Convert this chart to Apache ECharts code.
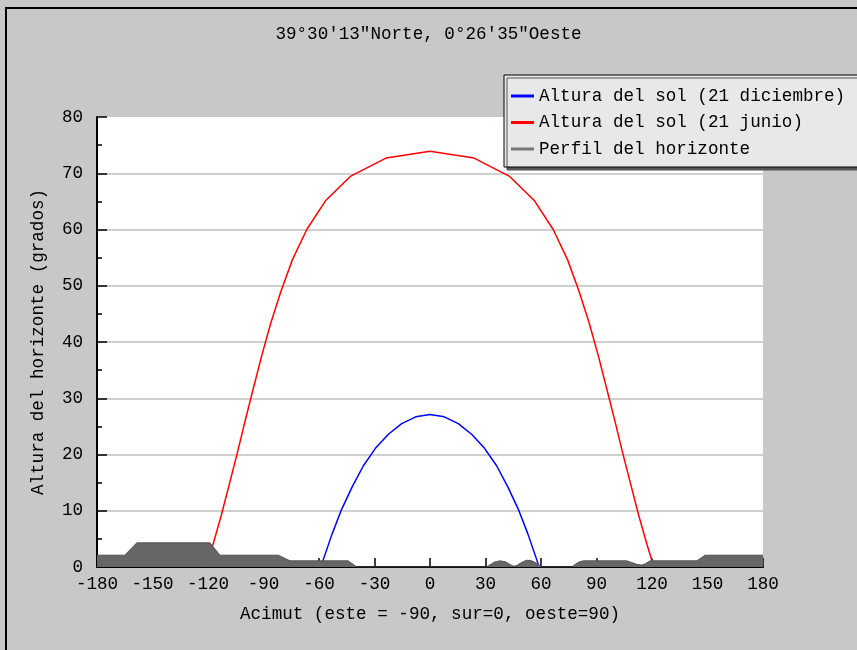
<!DOCTYPE html>
<html><head><meta charset="utf-8">
<script src="https://cdn.jsdelivr.net/npm/echarts@6/dist/echarts.min.js"></script>
<style>html,body{margin:0;padding:0;background:#c8c8c8;overflow:hidden}#c{width:857px;height:650px}</style>
</head><body><div id="c"></div>
<script>
// ---- data ----
const titleText = '39°30′13"Norte, 0°26′35"Oeste';
const xAxisName = 'Acimut (este = -90, sur=0, oeste=90)';
const yAxisName = 'Altura del horizonte (grados)';
const seriesNames = ['Altura del sol (21 diciembre)', 'Altura del sol (21 junio)', 'Perfil del horizonte'];

// 21 December sun path: azimuth (deg) and altitude (deg)
const decAz  = [-59.0, -58.0, -53.0, -47.7, -42.0, -36.0, -29.5, -22.5, -15.3, -7.7, 0, 7.7, 15.3, 22.5, 29.5, 36.0, 42.0, 47.7, 53.0, 58.0, 59.0];
const decAlt = [0, 1.0, 5.8, 10.3, 14.3, 18.0, 21.1, 23.6, 25.5, 26.7, 27.1, 26.7, 25.5, 23.6, 21.1, 18.0, 14.3, 10.3, 5.8, 1.0, 0];

// 21 June sun path
const junAz  = [-121.0, -117.3, -112.8, -108.5, -104.2, -100.0, -95.6, -91.1, -86.2, -80.7, -74.4, -66.6, -56.5, -42.8, -23.8, 0, 23.8, 42.8, 56.5, 66.6, 74.4, 80.7, 86.2, 91.1, 95.6, 100.0, 104.2, 108.5, 112.8, 117.3, 121.0];
const junAlt = [0, 4.0, 9.2, 14.7, 20.2, 25.9, 31.6, 37.4, 43.2, 48.9, 54.6, 60.0, 65.1, 69.5, 72.7, 73.9, 72.7, 69.5, 65.1, 60.0, 54.6, 48.9, 43.2, 37.4, 31.6, 25.9, 20.2, 14.7, 9.2, 4.0, 0];

// Horizon profile
const horAz  = [-180, -165, -158.5, -119, -113.5, -82, -75.7, -44.3, -39.6, 30.5, 33, 35, 38, 41, 43, 45, 46.5, 49, 52, 55, 58, 60.5, 76.6, 79, 81, 83, 106.3, 109, 112, 114.4, 116.5, 119, 144.2, 146.5, 148.6, 180];
const horAlt = [2.1, 2.1, 4.3, 4.3, 2.1, 2.1, 1.1, 1.1, 0, 0, 0.5, 0.9, 1.1, 0.9, 0.5, 0.15, 0.2, 0.7, 1.2, 1.1, 0.6, 0, 0, 0.6, 0.95, 1.1, 1.1, 0.8, 0.45, 0.35, 0.6, 1.1, 1.1, 1.6, 2.1, 2.1];

const xMin = -180, xMax = 180, xStep = 30;
const yMin = 0, yMax = 80, yStep = 10;

// ---- chart ----
const zip = (a, b) => a.map((v, i) => [v, b[i]]);
const FONT = '"Liberation Mono", "DejaVu Sans Mono", monospace';
const FS = 17.6;

const chart = echarts.init(document.getElementById('c'), null, {renderer: 'canvas'});
chart.setOption({
  animation: false,
  backgroundColor: '#c8c8c8',
  textStyle: {fontFamily: FONT, fontSize: FS, color: '#000'},
  title: {
    text: titleText, left: 'center', top: 20,
    textStyle: {fontFamily: FONT, fontSize: FS, fontWeight: 'normal', color: '#000'}
  },
  graphic: [
    {type: 'line', silent: true, shape: {x1: 5, y1: 8, x2: 857, y2: 8}, style: {stroke: '#000', lineWidth: 2}},
    {type: 'line', silent: true, shape: {x1: 6, y1: 7, x2: 6, y2: 650}, style: {stroke: '#000', lineWidth: 2}}
  ],
  legend: {
    orient: 'vertical', left: 504, top: 75,
    padding: [11, 14, 8, 7],
    itemGap: 6.5, itemWidth: 23, itemHeight: 3,
    backgroundColor: '#e8e8e8', borderColor: '#000', borderWidth: 1,
    shadowColor: '#555', shadowOffsetX: 3, shadowOffsetY: 3, shadowBlur: 0,
    textStyle: {fontFamily: FONT, fontSize: FS, color: '#000', lineHeight: 20, padding: [0, 0, 0, 0]},
    data: [
      {name: seriesNames[0], icon: 'rect', itemStyle: {color: '#0000ff'}},
      {name: seriesNames[1], icon: 'rect', itemStyle: {color: '#ff0000'}},
      {name: seriesNames[2], icon: 'rect', itemStyle: {color: '#777777'}}
    ],
    z: 20
  },
  grid: {
    left: 97, top: 117, width: 666, height: 450,
    show: true, backgroundColor: '#ffffff', borderWidth: 0, containLabel: false
  },
  xAxis: {
    type: 'value', min: xMin, max: xMax, interval: xStep,
    name: xAxisName, nameLocation: 'middle', nameGap: 38,
    nameTextStyle: {fontFamily: FONT, fontSize: FS, color: '#000'},
    axisLine: {onZero: false, lineStyle: {color: '#000', width: 2}},
    axisTick: {inside: true, length: 9, lineStyle: {color: '#000', width: 1.5}},
    axisLabel: {margin: 8, fontFamily: FONT, fontSize: FS, color: '#000'},
    splitLine: {show: false}
  },
  yAxis: {
    type: 'value', min: yMin, max: yMax, interval: yStep,
    name: yAxisName, nameLocation: 'middle', nameGap: 50,
    nameTextStyle: {fontFamily: FONT, fontSize: FS, color: '#000'},
    axisLine: {onZero: false, lineStyle: {color: '#000', width: 2}},
    axisTick: {inside: true, length: 10, lineStyle: {color: '#000', width: 1.5}},
    minorTick: {show: true, splitNumber: 2, length: 5, lineStyle: {color: '#000', width: 1.5}},
    axisLabel: {margin: 14, fontFamily: FONT, fontSize: FS, color: '#000'},
    splitLine: {show: true, showMinLine: false, showMaxLine: false, lineStyle: {color: '#cfcfcf', width: 2}}
  },
  series: [
    {
      name: seriesNames[0], type: 'line', data: zip(decAz, decAlt),
      showSymbol: false, symbol: 'none', z: 3,
      itemStyle: {color: '#0000ff'}, lineStyle: {color: '#0000ff', width: 1.5}
    },
    {
      name: seriesNames[1], type: 'line', data: zip(junAz, junAlt),
      showSymbol: false, symbol: 'none', z: 3,
      itemStyle: {color: '#ff0000'}, lineStyle: {color: '#ff0000', width: 1.5}
    },
    {
      name: seriesNames[2], type: 'line', data: zip(horAz, horAlt),
      showSymbol: false, symbol: 'none', z: 5,
      itemStyle: {color: '#777777'}, lineStyle: {color: '#555555', width: 1},
      areaStyle: {color: '#666666', opacity: 1, origin: 'start'}
    }
  ]
});
</script>
</body></html>
